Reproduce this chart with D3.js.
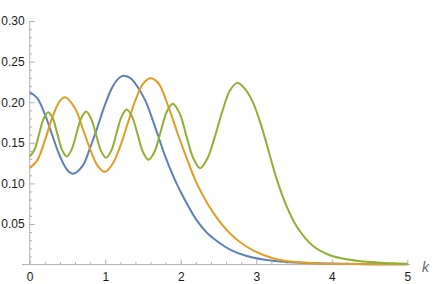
<!DOCTYPE html>
<html><head><meta charset="utf-8">
<script src="https://cdn.jsdelivr.net/npm/d3@7"></script>
<style>
html,body{margin:0;padding:0;background:#fff;}
svg{display:block;}
text{font-family:"Liberation Sans",Arial,sans-serif;}
</style></head>
<body>
<svg id="c" width="436" height="284"></svg>
<script>
// ---- data ----
const xTicks = [0, 1, 2, 3, 4, 5];
const yTicks = [0.05, 0.10, 0.15, 0.20, 0.25, 0.30];
const axisLabel = "k";

const blueK = [0, 0.1, 0.2, 0.3, 0.4, 0.5, 0.577, 0.7, 0.8, 0.9, 1.0, 1.1, 1.2, 1.262, 1.33, 1.395, 1.527, 1.659, 1.792, 1.924, 2.0, 2.1, 2.212, 2.35, 2.5, 2.653, 2.874, 3.094, 3.315, 3.58, 4.11, 5.0];
const blueV = [0.2124, 0.2051, 0.1854, 0.1590, 0.1334, 0.1162, 0.1119, 0.1215, 0.1440, 0.1700, 0.1975, 0.2195, 0.2310, 0.2324, 0.2300, 0.2234, 0.2029, 0.1700, 0.1340, 0.1040, 0.0895, 0.0720, 0.0545, 0.0390, 0.0275, 0.0185, 0.0105, 0.0062, 0.0038, 0.0022, 0.0009, 0.0003];

const orangeK = [0, 0.1, 0.2, 0.3, 0.4, 0.4675, 0.6, 0.7, 0.8, 0.9, 0.997, 1.1, 1.2, 1.3, 1.4, 1.5, 1.593, 1.7, 1.836, 1.968, 2.1, 2.212, 2.43, 2.651, 2.874, 3.094, 3.315, 3.756, 4.3, 5.0];
const orangeV = [0.1189, 0.1284, 0.1527, 0.1812, 0.2016, 0.2060, 0.1925, 0.1680, 0.1422, 0.1217, 0.1143, 0.1245, 0.1460, 0.1745, 0.2025, 0.2225, 0.2296, 0.2240, 0.1946, 0.1590, 0.1260, 0.1000, 0.0640, 0.0385, 0.0220, 0.0118, 0.0057, 0.0016, 0.0007, 0.0003];

const greenK = [0, 0.0615, 0.123, 0.1845, 0.246, 0.307, 0.368, 0.429, 0.490, 0.554, 0.618, 0.682, 0.746, 0.812, 0.879, 0.945, 1.011, 1.080, 1.148, 1.217, 1.285, 1.357, 1.430, 1.502, 1.574, 1.654, 1.734, 1.814, 1.894, 1.985, 2.075, 2.166, 2.256, 2.35, 2.45, 2.55, 2.65, 2.746, 2.85, 2.95, 3.05, 3.139, 3.272, 3.404, 3.536, 3.756, 3.977, 4.199, 4.419, 4.64, 5.0];
const greenV = [0.1332, 0.1411, 0.1604, 0.1796, 0.1875, 0.1796, 0.1604, 0.1411, 0.1332, 0.1413, 0.1608, 0.1803, 0.1884, 0.1801, 0.1600, 0.1399, 0.1316, 0.1403, 0.1613, 0.1823, 0.1910, 0.1819, 0.1601, 0.1382, 0.1291, 0.1392, 0.1636, 0.1879, 0.1980, 0.1864, 0.1585, 0.1310, 0.1188, 0.1300, 0.1570, 0.1885, 0.2140, 0.2238, 0.2165, 0.2010, 0.1760, 0.1480, 0.1050, 0.0715, 0.0470, 0.0225, 0.0115, 0.0065, 0.0038, 0.0024, 0.0012];

const seriesColors = ["#5E81B5", "#E19C24", "#8FB032"];

// ---- chart ----
const svg = d3.select("#c");
const x = d3.scaleLinear().domain([0, 5]).range([29.7, 407.3]);
const y = d3.scaleLinear().domain([0, 0.30]).range([264.6, 21]);
const axisCol = "#b0b0b0";

// axis lines
svg.append("line").attr("x1", 22).attr("x2", 410).attr("y1", y(0)).attr("y2", y(0))
  .attr("stroke", axisCol).attr("stroke-width", 1);
svg.append("line").attr("x1", x(0)).attr("x2", x(0)).attr("y1", y(0.30)).attr("y2", y(0))
  .attr("stroke", axisCol).attr("stroke-width", 1);

// minor ticks
const xMinor = d3.range(0, 5.001, 0.2).filter(v => Math.abs(v - Math.round(v)) > 1e-6);
const yMinor = d3.range(0.01, 0.3001, 0.01).filter(v => Math.abs(v * 20 - Math.round(v * 20)) > 1e-6);

function styleAxis(g) {
  g.select(".domain").remove();
  g.selectAll(".tick line").attr("stroke", axisCol);
  g.selectAll(".tick text").attr("fill", "#1a1a1a").style("font-size", "12px");
}

svg.append("g").attr("transform", `translate(0,${y(0)})`)
  .call(d3.axisBottom(x).tickValues(xMinor).tickSize(-2.5).tickFormat(""))
  .call(styleAxis);
svg.append("g").attr("transform", `translate(${x(0)},0)`)
  .call(d3.axisLeft(y).tickValues(yMinor).tickSize(-2.5).tickFormat(""))
  .call(styleAxis);

svg.append("g").attr("transform", `translate(0,${y(0)})`)
  .call(d3.axisBottom(x).tickValues(xTicks).tickSize(-5).tickPadding(7.5).tickFormat(d3.format("d")))
  .call(styleAxis);
svg.append("g").attr("transform", `translate(${x(0)},0)`)
  .call(d3.axisLeft(y).tickValues(yTicks).tickSize(-5).tickPadding(5).tickFormat(d3.format(".2f")))
  .call(styleAxis);

// axis label
svg.append("text").attr("x", 422).attr("y", 272)
  .style("font-style", "italic").style("font-size", "14px").attr("fill", "#666")
  .text(axisLabel);

// curves
const line = d3.line().x(d => x(d[0])).y(d => y(d[1])).curve(d3.curveCatmullRom.alpha(0.5));
const series = [[blueK, blueV], [orangeK, orangeV], [greenK, greenV]];
series.forEach(([ks, vs], i) => {
  svg.append("path")
    .datum(ks.map((k, j) => [k, vs[j]]))
    .attr("d", line)
    .attr("fill", "none")
    .attr("stroke", seriesColors[i])
    .attr("stroke-width", 2)
    .attr("stroke-linejoin", "round");
});
</script>
</body></html>
